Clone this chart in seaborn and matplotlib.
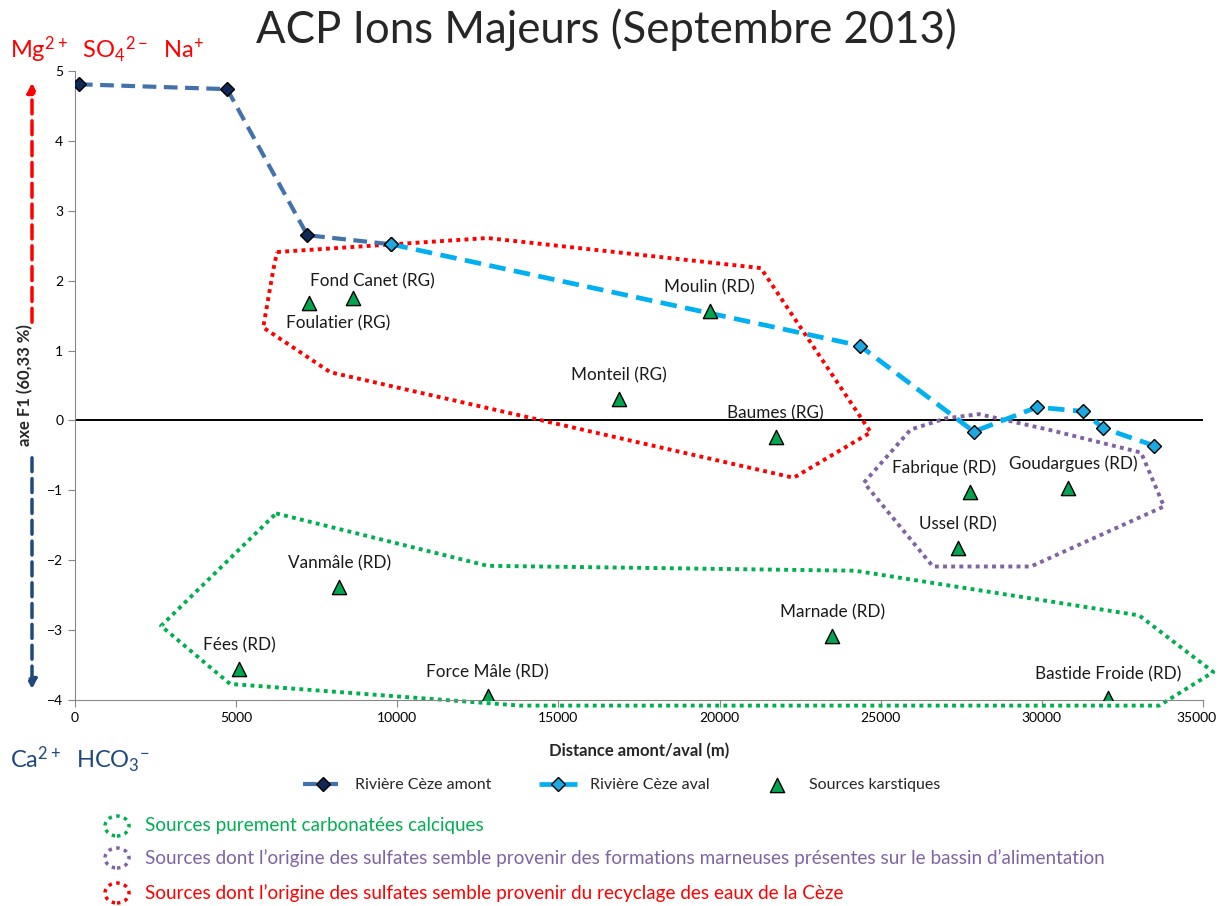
import matplotlib
matplotlib.use('Agg')
import matplotlib.pyplot as plt
import matplotlib.transforms as mtransforms
from matplotlib.patches import Ellipse, FancyArrowPatch
import seaborn as sns

# Rivière Cèze amont / aval : distance (m) vs axe F1
amont_dist = [120, 4720, 7210, 9820]
amont_f1 = [4.81, 4.74, 2.65, 2.52]

aval_dist = [9820, 24350, 27890, 29850, 31280, 31900, 33480]
aval_f1 = [2.52, 1.07, -0.16, 0.19, 0.13, -0.11, -0.36]

# Sources karstiques
source_names = ['Foulatier (RG)', 'Fond Canet (RG)', 'Moulin (RD)', 'Monteil (RG)',
                'Baumes (RG)', 'Fabrique (RD)', 'Goudargues (RD)', 'Ussel (RD)',
                'Vanmâle (RD)', 'Marnade (RD)', 'Fées (RD)', 'Force Mâle (RD)',
                'Bastide Froide (RD)']
source_dist = [7270, 8630, 19690, 16870, 21740, 27770, 30810, 27400,
               8200, 23500, 5090, 12800, 32050]
source_f1 = [1.68, 1.75, 1.56, 0.30, -0.24, -1.03, -0.97, -1.83,
             -2.39, -3.09, -3.55, -3.94, -3.97]

# groupes (contours dessinés à la main)
red_x = [6270, 12800, 21280, 24690, 22300, 7920, 5840, 6150]
red_y = [2.41, 2.61, 2.18, -0.17, -0.82, 0.69, 1.33, 2.15]
purple_x = [24480, 25930, 27020, 28050, 30280, 33080, 33790, 29660, 26620]
purple_y = [-0.89, -0.13, 0.03, 0.09, -0.14, -0.46, -1.23, -2.09, -2.09]
green_x = [6240, 12800, 24200, 33020, 35320, 33640, 13820, 4810, 2670]
green_y = [-1.33, -2.08, -2.15, -2.79, -3.60, -4.08, -4.08, -3.77, -2.94]

group_labels = ['Sources purement carbonatées calciques',
                'Sources dont l\u2019origine des sulfates semble provenir des formations marneuses présentes sur le bassin d\u2019alimentation',
                'Sources dont l\u2019origine des sulfates semble provenir du recyclage des eaux de la Cèze']

# label offsets (points) where the label is not straight above
label_offsets = {'Foulatier (RG)': (21, -15), 'Fond Canet (RG)': (14, 12),
                 'Fabrique (RD)': (-19, 18), 'Goudargues (RD)': (4, 18)}

sns.set_style('ticks')
plt.rcParams['font.family'] = ['Lato', 'DejaVu Sans']
plt.rcParams['mathtext.default'] = 'regular'

fig = plt.figure(figsize=(12.19, 9.06), dpi=100)
W, H = 1219, 906
ax = fig.add_axes([75 / W, 1 - 700 / H, 1128 / W, 629 / H])

dot = (0, (1, 1.1))
for xs, ys, col in [(green_x, green_y, '#00B050'), (purple_x, purple_y, '#8064A2'),
                    (red_x, red_y, '#FF0000')]:
    sns.lineplot(x=xs + xs[:1], y=ys + ys[:1], sort=False, estimator=None, ax=ax,
                 color=col, lw=2.8, linestyle=dot, dash_capstyle='butt', clip_on=False)

ax.axhline(0, color='black', lw=1.4, zorder=1)

sns.lineplot(x=amont_dist, y=amont_f1, sort=False, estimator=None, ax=ax,
             color='#4372AA', lw=3, linestyle=(0, (3.3, 1.8)), marker='D', markersize=7.5,
             markerfacecolor='#0F2856', markeredgecolor='black', markeredgewidth=1,
             label='Rivière Cèze amont', zorder=3)
sns.lineplot(x=aval_dist, y=aval_f1, sort=False, estimator=None, ax=ax,
             color='#00B0F0', lw=3.4, linestyle=(0, (3.5, 1.8)), marker='D', markersize=7.5,
             markerfacecolor='#1EA8E0', markeredgecolor='black', markeredgewidth=1,
             label='Rivière Cèze aval', zorder=4)
sns.scatterplot(x=source_dist, y=source_f1, ax=ax, marker='^', s=105, color='#00A550',
                edgecolor='black', linewidth=1, label='Sources karstiques', zorder=5)

for name, x, y in zip(source_names, source_dist, source_f1):
    ax.annotate(name, (x, y), xytext=label_offsets.get(name, (0, 17)),
                textcoords='offset points', ha='center', va='center', fontsize=12.3,
                color='#1a1a1a')

ax.set_xlim(0, 35000)
ax.set_ylim(-4, 5)
ax.set_xticks(range(0, 35001, 5000))
ax.set_yticks(range(-4, 6))
sns.despine(ax=ax)
for s in ['left', 'bottom']:
    ax.spines[s].set_color('#868686')
ax.tick_params(colors='#868686', labelcolor='black', labelsize=10, length=5)
ax.set_xlabel('Distance amont/aval (m)', fontsize=12, fontweight='bold')
ax.set_ylabel('axe F1 (60,33 %)', fontsize=12, fontweight='bold')
ax.xaxis.set_label_coords(0.5, -0.068)
ax.yaxis.set_label_coords(-0.037, 0.5)

# keep the last x tick label inside the picture
last = ax.get_xticklabels()[-1]
last.set_transform(last.get_transform() +
                   mtransforms.ScaledTranslation(-7 / 100, 0, fig.dpi_scale_trans))

handles, labels = ax.get_legend_handles_labels()
if ax.get_legend():
    ax.get_legend().remove()
fig.legend(handles, labels, loc='center', bbox_to_anchor=(0.51, 1 - 785 / H), ncol=3,
           frameon=False, fontsize=11.5, columnspacing=3, handlelength=2.4)

fig.text(606 / W, 1 - 30 / H, 'ACP Ions Majeurs (Septembre 2013)', ha='center',
         va='center', fontsize=31.5)
fig.text(10 / W, 1 - 50 / H, r'Mg$^{2+}$  SO$_{4}$$^{2-}$  Na$^{+}$', color='#FF0000',
         fontsize=17, va='center')
fig.text(10 / W, 1 - 760 / H, r'Ca$^{2+}$  HCO$_{3}$$^{-}$', color='#1F497D',
         fontsize=17, va='center')

fig.add_artist(FancyArrowPatch((32 / W, 1 - 325 / H), (32 / W, 1 - 80 / H),
                               transform=fig.transFigure, arrowstyle='-|>', mutation_scale=14,
                               lw=2.5, ls=(0, (4, 2)), color='#FF0000'))
fig.add_artist(FancyArrowPatch((32 / W, 1 - 455 / H), (32 / W, 1 - 692 / H),
                               transform=fig.transFigure, arrowstyle='-|>', mutation_scale=14,
                               lw=2.5, ls=(0, (4, 2)), color='#1F497D'))

for i, (txt, col) in enumerate(zip(group_labels, ['#00B050', '#8064A2', '#FF0000'])):
    yy = 1 - [826, 858, 893][i] / H
    fig.add_artist(Ellipse((117 / W, yy), 24 / W, 20 / H, transform=fig.transFigure,
                           fill=False, ec=col, lw=2.5, ls=(0, (1, 1.3))))
    fig.text(145 / W, yy, txt, color=col, fontsize=13.6, va='center')

fig.savefig('out.png', dpi=100)
